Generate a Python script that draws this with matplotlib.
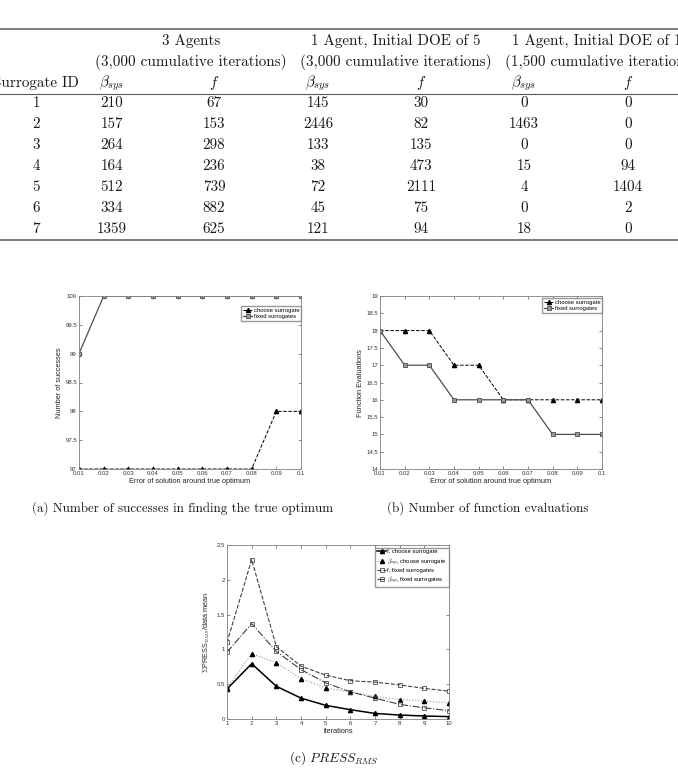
import numpy as np
import matplotlib
matplotlib.use('Agg')
import matplotlib.pyplot as plt
from matplotlib.lines import Line2D
from matplotlib.ticker import FuncFormatter

plt.rcParams['mathtext.fontset'] = 'cm'
plt.rcParams['font.family'] = ['Liberation Sans', 'DejaVu Sans']

# ---- table data ----
surrogate_ids = [1, 2, 3, 4, 5, 6, 7]
agents3_beta = [210, 157, 264, 164, 512, 334, 1359]
agents3_f = [67, 153, 298, 236, 739, 882, 625]
doe5_beta = [145, 2446, 133, 38, 72, 45, 121]
doe5_f = [30, 82, 135, 473, 2111, 75, 94]
doe10_beta = [0, 1463, 0, 15, 4, 0, 18]
doe10_f = [0, 0, 0, 94, 1404, 2, 0]
group_titles = ['3 Agents', '1 Agent, Initial DOE of 5', '1 Agent, Initial DOE of 10']
group_subtitles = ['(3,000 cumulative iterations)', '(3,000 cumulative iterations)',
                   '(1,500 cumulative iterations)']

# ---- plot (a) / (b) data ----
error_levels = [0.01, 0.02, 0.03, 0.04, 0.05, 0.06, 0.07, 0.08, 0.09, 0.1]
successes_choose = [97, 97, 97, 97, 97, 97, 97, 97, 98, 98]
successes_fixed = [99, 100, 100, 100, 100, 100, 100, 100, 100, 100]
evals_choose = [18, 18, 18, 17, 17, 16, 16, 16, 16, 16]
evals_fixed = [18, 17, 17, 16, 16, 16, 16, 15, 15, 15]

# ---- plot (c) data ----
iterations = [1, 2, 3, 4, 5, 6, 7, 8, 9, 10]
press_f_choose = [0.43, 0.795, 0.47, 0.30, 0.196, 0.134, 0.08, 0.057, 0.043, 0.034]
press_beta_choose = [0.445, 0.94, 0.81, 0.58, 0.445, 0.39, 0.325, 0.28, 0.26, 0.23]
press_f_fixed = [1.10, 2.29, 1.04, 0.76, 0.63, 0.55, 0.53, 0.49, 0.44, 0.40]
press_beta_fixed = [0.96, 1.37, 0.97, 0.71, 0.52, 0.39, 0.30, 0.21, 0.16, 0.12]

W, H = 678, 777
fig = plt.figure(figsize=(W / 100, H / 100), dpi=100)


def fx(px):
    return px / W


def fy(py):
    return 1 - py / H


def ftext(x, y, s, size=10.9, ha='center', family='cmr10'):
    fig.text(fx(x), fy(y), s, ha=ha, va='center', fontsize=size,
             family=family, color='0.1')


# ---- table ----
for y, lw in [(29, 1.1), (94, 0.8), (240, 1.1)]:
    fig.add_artist(Line2D([0, 1], [fy(y), fy(y)], transform=fig.transFigure,
                          color='0.35', lw=lw))

group_centers = [191, 396, 601]
beta_cols = [112, 318, 524]
f_cols = [214, 421, 628]
for c, t, s in zip(group_centers, group_titles, group_subtitles):
    ftext(c, 41, t)
    ftext(c, 62, s)
ftext(36, 83, 'Surrogate ID')
for b, f in zip(beta_cols, f_cols):
    ftext(b, 83, r'$\beta_{sys}$')
    ftext(f, 83, r'$f$')

columns = [surrogate_ids, agents3_beta, agents3_f, doe5_beta, doe5_f, doe10_beta, doe10_f]
col_x = [36, beta_cols[0], f_cols[0], beta_cols[1], f_cols[1], beta_cols[2], f_cols[2]]
for cx, col in zip(col_x, columns):
    for i, v in enumerate(col):
        ftext(cx, 103 + i * 21, str(v))

# ---- axes styling helper ----
fmt = FuncFormatter(lambda v, p: '%g' % v)


def style(ax):
    ax.tick_params(direction='in', top=True, right=True, labelsize=4.3,
                   length=2.5, width=0.5, colors='0.35', labelcolor='0.2', pad=1.5)
    for s in ax.spines.values():
        s.set_color('0.5')
        s.set_linewidth(0.6)


leg_kw = dict(fontsize=4.2, frameon=True, fancybox=False, edgecolor='0.5',
              borderpad=0.3, handlelength=1.6, handletextpad=0.2,
              labelspacing=0.2, borderaxespad=0)

# ---- (a) ----
axa = fig.add_axes([fx(79), fy(469), fx(222), 173 / H])
axa.plot(error_levels, successes_choose, '--', color='k', lw=0.7, marker='^',
         ms=3, mfc='k', mec='k', label='choose surrogate')
axa.plot(error_levels, successes_fixed, '-', color='0.3', lw=0.9, marker='s',
         ms=2.6, mfc='0.6', mec='0.3', mew=0.6, label='fixed surrogates')
axa.set_xlim(0.01, 0.1)
axa.set_ylim(97, 100)
axa.set_xticks(error_levels)
axa.set_yticks(np.arange(97, 100.01, 0.5))
axa.xaxis.set_major_formatter(fmt)
axa.yaxis.set_major_formatter(fmt)
style(axa)
axa.set_xlabel('Error of solution around true optimum', fontsize=5.3, labelpad=1.5, color='0.15')
axa.set_ylabel('Number of successes', fontsize=5.3, labelpad=2, color='0.15')
axa.legend(loc='upper right', bbox_to_anchor=(1.0, 0.943), **leg_kw)

# ---- (b) ----
axb = fig.add_axes([fx(380), fy(469), fx(222), 173 / H])
axb.plot(error_levels, evals_choose, '--', color='k', lw=0.7, marker='^',
         ms=3, mfc='k', mec='k', label='choose surrogate')
axb.plot(error_levels, evals_fixed, '-', color='0.3', lw=0.9, marker='s',
         ms=2.6, mfc='0.6', mec='0.3', mew=0.6, label='fixed surrogates')
axb.set_xlim(0.01, 0.1)
axb.set_ylim(14, 19)
axb.set_xticks(error_levels)
axb.set_yticks(np.arange(14, 19.01, 0.5))
axb.xaxis.set_major_formatter(fmt)
axb.yaxis.set_major_formatter(fmt)
style(axb)
axb.set_xlabel('Error of solution around true optimum', fontsize=5.3, labelpad=1.5, color='0.15')
axb.set_ylabel('Function Evaluations', fontsize=5.3, labelpad=2, color='0.15')
axb.legend(loc='upper right', bbox_to_anchor=(1.0, 0.99), **leg_kw)

# ---- (c) ----
axc = fig.add_axes([fx(227), fy(719), fx(222), 174 / H])
axc.plot(iterations, press_f_choose, '-', color='k', lw=1.1, marker='^',
         ms=3, mfc='k', mec='k', label='f, choose surrogate')
axc.plot(iterations, press_beta_choose, ':', color='0.6', lw=0.8, marker='^',
         ms=3, mfc='k', mec='k', label=r'$\beta_{sys}$, choose surrogate')
axc.plot(iterations, press_f_fixed, '--', color='0.25', lw=0.8, marker='s',
         ms=2.8, mfc='none', mec='0.3', mew=0.6, label='f, fixed surrogates')
axc.plot(iterations, press_beta_fixed, '-.', color='0.25', lw=0.8, marker='s',
         ms=2.8, mfc='none', mec='0.3', mew=0.6, label=r'$\beta_{sys}$, fixed surrogates')
axc.set_xlim(1, 10)
axc.set_ylim(0, 2.5)
axc.set_xticks(iterations)
axc.set_yticks(np.arange(0, 2.51, 0.5))
axc.xaxis.set_major_formatter(fmt)
axc.yaxis.set_major_formatter(fmt)
style(axc)
axc.set_xlabel('iterations', fontsize=5.3, labelpad=1.5, color='0.15')
axc.set_ylabel(r'$\Sigma$PRESS$_{RMS}$/data mean', fontsize=5.3, labelpad=3, color='0.15')
axc.legend(loc='upper right', bbox_to_anchor=(1.0, 0.985), **leg_kw)

# ---- captions ----
ftext(183, 508, '(a) Number of successes in finding the true optimum', size=9.4)
ftext(488, 508, '(b) Number of function evaluations', size=9.4)
ftext(334, 758, r'(c) $PRESS_{RMS}$', size=9.6)

fig.savefig('out.png', dpi=100)
